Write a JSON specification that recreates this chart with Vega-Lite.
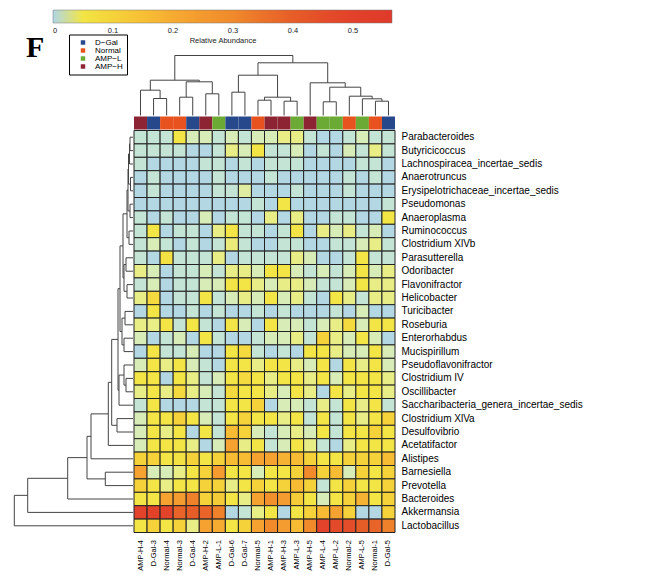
{
"$schema": "https://vega.github.io/schema/vega-lite/v6.json",
"autosize": {"type": "pad"},
"padding": {"left": 13, "top": 9.5, "right": 4, "bottom": 2},
"background": "white",
"config": {"font": "Liberation Sans", "view": {"stroke": null}},
"bounds": "flush",
"align": "each",
"columns": 2,
"spacing": {"row": 1, "column": 1},
"datasets": {
"samples": [{"s":"AMP-H-4","grp":"AMP−H"},{"s":"D-Gal-3","grp":"D−Gal"},{"s":"Normal-4","grp":"Normal"},{"s":"Normal-3","grp":"Normal"},{"s":"D-Gal-4","grp":"D−Gal"},{"s":"AMP-H-2","grp":"AMP−H"},{"s":"AMP-L-1","grp":"AMP−L"},{"s":"D-Gal-6","grp":"D−Gal"},{"s":"D-Gal-7","grp":"D−Gal"},{"s":"Normal-5","grp":"Normal"},{"s":"AMP-H-1","grp":"AMP−H"},{"s":"AMP-H-3","grp":"AMP−H"},{"s":"AMP-L-3","grp":"AMP−L"},{"s":"AMP-H-5","grp":"AMP−H"},{"s":"AMP-L-4","grp":"AMP−L"},{"s":"AMP-L-2","grp":"AMP−L"},{"s":"Normal-2","grp":"Normal"},{"s":"AMP-L-5","grp":"AMP−L"},{"s":"Normal-1","grp":"Normal"},{"s":"D-Gal-5","grp":"D−Gal"}],
"topTree": [
{"x":1.5,"x2":2.5,"y":17,"y2":17},{"x":1.5,"x2":1.5,"y":0,"y2":17},{"x":2.5,"x2":2.5,"y":0,"y2":17},
{"x":0.5,"x2":2,"y":25.3,"y2":25.3},{"x":0.5,"x2":0.5,"y":0,"y2":25.3},{"x":2,"x2":2,"y":17,"y2":25.3},
{"x":3.5,"x2":4.5,"y":18.3,"y2":18.3},{"x":3.5,"x2":3.5,"y":0,"y2":18.3},{"x":4.5,"x2":4.5,"y":0,"y2":18.3},
{"x":5.5,"x2":6.5,"y":21.7,"y2":21.7},{"x":5.5,"x2":5.5,"y":0,"y2":21.7},{"x":6.5,"x2":6.5,"y":0,"y2":21.7},
{"x":4,"x2":6,"y":33.7,"y2":33.7},{"x":4,"x2":4,"y":18.3,"y2":33.7},{"x":6,"x2":6,"y":21.7,"y2":33.7},
{"x":1.25,"x2":5,"y":35.3,"y2":35.3},{"x":1.25,"x2":1.25,"y":25.3,"y2":35.3},{"x":5,"x2":5,"y":33.7,"y2":35.3},
{"x":7.5,"x2":8.5,"y":23.3,"y2":23.3},{"x":7.5,"x2":7.5,"y":0,"y2":23.3},{"x":8.5,"x2":8.5,"y":0,"y2":23.3},
{"x":9.5,"x2":10.5,"y":15.3,"y2":15.3},{"x":9.5,"x2":9.5,"y":0,"y2":15.3},{"x":10.5,"x2":10.5,"y":0,"y2":15.3},
{"x":11.5,"x2":12.5,"y":14.3,"y2":14.3},{"x":11.5,"x2":11.5,"y":0,"y2":14.3},{"x":12.5,"x2":12.5,"y":0,"y2":14.3},
{"x":10,"x2":12,"y":18.3,"y2":18.3},{"x":10,"x2":10,"y":15.3,"y2":18.3},{"x":12,"x2":12,"y":14.3,"y2":18.3},
{"x":8,"x2":11,"y":40.3,"y2":40.3},{"x":8,"x2":8,"y":23.3,"y2":40.3},{"x":11,"x2":11,"y":18.3,"y2":40.3},
{"x":14.5,"x2":15.5,"y":13.7,"y2":13.7},{"x":14.5,"x2":14.5,"y":0,"y2":13.7},{"x":15.5,"x2":15.5,"y":0,"y2":13.7},
{"x":18.5,"x2":19.5,"y":14.3,"y2":14.3},{"x":18.5,"x2":18.5,"y":0,"y2":14.3},{"x":19.5,"x2":19.5,"y":0,"y2":14.3},
{"x":17.5,"x2":19,"y":16.7,"y2":16.7},{"x":17.5,"x2":17.5,"y":0,"y2":16.7},{"x":19,"x2":19,"y":14.3,"y2":16.7},
{"x":16.5,"x2":18.25,"y":19.3,"y2":19.3},{"x":16.5,"x2":16.5,"y":0,"y2":19.3},{"x":18.25,"x2":18.25,"y":16.7,"y2":19.3},
{"x":15,"x2":17.375,"y":28.3,"y2":28.3},{"x":15,"x2":15,"y":13.7,"y2":28.3},{"x":17.375,"x2":17.375,"y":19.3,"y2":28.3},
{"x":13.5,"x2":16.1875,"y":32.7,"y2":32.7},{"x":13.5,"x2":13.5,"y":0,"y2":32.7},{"x":16.1875,"x2":16.1875,"y":28.3,"y2":32.7},
{"x":9.5,"x2":14.844,"y":52.7,"y2":52.7},{"x":9.5,"x2":9.5,"y":40.3,"y2":52.7},{"x":14.844,"x2":14.844,"y":32.7,"y2":52.7},
{"x":3.125,"x2":12.172,"y":60,"y2":60},{"x":3.125,"x2":3.125,"y":35.3,"y2":60},{"x":12.172,"x2":12.172,"y":52.7,"y2":60}
],
"leftTree": [
{"x":3,"x2":3,"y":0.5,"y2":1.5},{"x":0,"x2":3,"y":0.5,"y2":0.5},{"x":0,"x2":3,"y":1.5,"y2":1.5},
{"x":3.5,"x2":3.5,"y":1,"y2":2.5},{"x":3,"x2":3.5,"y":1,"y2":1},{"x":0,"x2":3.5,"y":2.5,"y2":2.5},
{"x":2.5,"x2":2.5,"y":3.5,"y2":4.5},{"x":0,"x2":2.5,"y":3.5,"y2":3.5},{"x":0,"x2":2.5,"y":4.5,"y2":4.5},
{"x":4.5,"x2":4.5,"y":1.75,"y2":4},{"x":3.5,"x2":4.5,"y":1.75,"y2":1.75},{"x":2.5,"x2":4.5,"y":4,"y2":4},
{"x":3,"x2":3,"y":5.5,"y2":6.5},{"x":0,"x2":3,"y":5.5,"y2":5.5},{"x":0,"x2":3,"y":6.5,"y2":6.5},
{"x":5,"x2":5,"y":2.875,"y2":6},{"x":4.5,"x2":5,"y":2.875,"y2":2.875},{"x":3,"x2":5,"y":6,"y2":6},
{"x":4,"x2":4,"y":7.5,"y2":8.5},{"x":0,"x2":4,"y":7.5,"y2":7.5},{"x":0,"x2":4,"y":8.5,"y2":8.5},
{"x":6,"x2":6,"y":4.438,"y2":8},{"x":5,"x2":6,"y":4.438,"y2":4.438},{"x":4,"x2":6,"y":8,"y2":8},
{"x":7,"x2":7,"y":9.5,"y2":10.5},{"x":0,"x2":7,"y":9.5,"y2":9.5},{"x":0,"x2":7,"y":10.5,"y2":10.5},
{"x":6,"x2":6,"y":11.5,"y2":12.5},{"x":0,"x2":6,"y":11.5,"y2":11.5},{"x":0,"x2":6,"y":12.5,"y2":12.5},
{"x":9,"x2":9,"y":10,"y2":12},{"x":7,"x2":9,"y":10,"y2":10},{"x":6,"x2":9,"y":12,"y2":12},
{"x":10,"x2":10,"y":6.219,"y2":11},{"x":6,"x2":10,"y":6.219,"y2":6.219},{"x":9,"x2":10,"y":11,"y2":11},
{"x":8,"x2":8,"y":13.5,"y2":14.5},{"x":0,"x2":8,"y":13.5,"y2":13.5},{"x":0,"x2":8,"y":14.5,"y2":14.5},
{"x":9,"x2":9,"y":15.5,"y2":16.5},{"x":0,"x2":9,"y":15.5,"y2":15.5},{"x":0,"x2":9,"y":16.5,"y2":16.5},
{"x":11,"x2":11,"y":14,"y2":16},{"x":8,"x2":11,"y":14,"y2":14},{"x":9,"x2":11,"y":16,"y2":16},
{"x":13,"x2":13,"y":8.609,"y2":15},{"x":10,"x2":13,"y":8.609,"y2":8.609},{"x":11,"x2":13,"y":15,"y2":15},
{"x":7,"x2":7,"y":18.5,"y2":19.5},{"x":0,"x2":7,"y":18.5,"y2":18.5},{"x":0,"x2":7,"y":19.5,"y2":19.5},
{"x":9,"x2":9,"y":17.5,"y2":19},{"x":0,"x2":9,"y":17.5,"y2":17.5},{"x":7,"x2":9,"y":19,"y2":19},
{"x":14,"x2":14,"y":18.25,"y2":20.5},{"x":9,"x2":14,"y":18.25,"y2":18.25},{"x":0,"x2":14,"y":20.5,"y2":20.5},
{"x":15,"x2":15,"y":11.805,"y2":19.375},{"x":13,"x2":15,"y":11.805,"y2":11.805},{"x":14,"x2":15,"y":19.375,"y2":19.375},
{"x":16,"x2":16,"y":21.5,"y2":22.5},{"x":0,"x2":16,"y":21.5,"y2":21.5},{"x":0,"x2":16,"y":22.5,"y2":22.5},
{"x":21.3,"x2":21.3,"y":15.59,"y2":22},{"x":15,"x2":21.3,"y":15.59,"y2":15.59},{"x":16,"x2":21.3,"y":22,"y2":22},
{"x":24.7,"x2":24.7,"y":18.795,"y2":23.5},{"x":21.3,"x2":24.7,"y":18.795,"y2":18.795},{"x":0,"x2":24.7,"y":23.5,"y2":23.5},
{"x":42,"x2":42,"y":21.147,"y2":24.5},{"x":24.7,"x2":42,"y":21.147,"y2":21.147},{"x":0,"x2":42,"y":24.5,"y2":24.5},
{"x":27.7,"x2":27.7,"y":25.5,"y2":26.5},{"x":0,"x2":27.7,"y":25.5,"y2":25.5},{"x":0,"x2":27.7,"y":26.5,"y2":26.5},
{"x":46,"x2":46,"y":22.824,"y2":26},{"x":42,"x2":46,"y":22.824,"y2":22.824},{"x":27.7,"x2":46,"y":26,"y2":26},
{"x":65.3,"x2":65.3,"y":24.412,"y2":27.5},{"x":46,"x2":65.3,"y":24.412,"y2":24.412},{"x":0,"x2":65.3,"y":27.5,"y2":27.5},
{"x":105.3,"x2":105.3,"y":25.956,"y2":28.5},{"x":65.3,"x2":105.3,"y":25.956,"y2":25.956},{"x":0,"x2":105.3,"y":28.5,"y2":28.5},
{"x":118.7,"x2":118.7,"y":27.228,"y2":29.5},{"x":105.3,"x2":118.7,"y":27.228,"y2":27.228},{"x":0,"x2":118.7,"y":29.5,"y2":29.5}
],
"cells": [
{"g":"Parabacteroides","s":"AMP-H-4","v":0.003},{"g":"Parabacteroides","s":"D-Gal-3","v":0.003},{"g":"Parabacteroides","s":"Normal-4","v":0.003},{"g":"Parabacteroides","s":"Normal-3","v":0.05},{"g":"Parabacteroides","s":"D-Gal-4","v":0.007},{"g":"Parabacteroides","s":"AMP-H-2","v":0.007},{"g":"Parabacteroides","s":"AMP-L-1","v":0.003},{"g":"Parabacteroides","s":"D-Gal-6","v":0.007},{"g":"Parabacteroides","s":"D-Gal-7","v":0.003},{"g":"Parabacteroides","s":"Normal-5","v":0.007},{"g":"Parabacteroides","s":"AMP-H-1","v":0.007},{"g":"Parabacteroides","s":"AMP-H-3","v":0.018},{"g":"Parabacteroides","s":"AMP-L-3","v":0.018},{"g":"Parabacteroides","s":"AMP-H-5","v":0.003},{"g":"Parabacteroides","s":"AMP-L-4","v":0.0005},{"g":"Parabacteroides","s":"AMP-L-2","v":0.0005},{"g":"Parabacteroides","s":"Normal-2","v":0.003},{"g":"Parabacteroides","s":"AMP-L-5","v":0.007},{"g":"Parabacteroides","s":"Normal-1","v":0.003},{"g":"Parabacteroides","s":"D-Gal-5","v":0.003},
{"g":"Butyricicoccus","s":"AMP-H-4","v":0.003},{"g":"Butyricicoccus","s":"D-Gal-3","v":0.003},{"g":"Butyricicoccus","s":"Normal-4","v":0.003},{"g":"Butyricicoccus","s":"Normal-3","v":0.003},{"g":"Butyricicoccus","s":"D-Gal-4","v":0.0005},{"g":"Butyricicoccus","s":"AMP-H-2","v":0.0005},{"g":"Butyricicoccus","s":"AMP-L-1","v":0.003},{"g":"Butyricicoccus","s":"D-Gal-6","v":0.018},{"g":"Butyricicoccus","s":"D-Gal-7","v":0.007},{"g":"Butyricicoccus","s":"Normal-5","v":0.05},{"g":"Butyricicoccus","s":"AMP-H-1","v":0.003},{"g":"Butyricicoccus","s":"AMP-H-3","v":0.003},{"g":"Butyricicoccus","s":"AMP-L-3","v":0.007},{"g":"Butyricicoccus","s":"AMP-H-5","v":0.0005},{"g":"Butyricicoccus","s":"AMP-L-4","v":0.003},{"g":"Butyricicoccus","s":"AMP-L-2","v":0.0005},{"g":"Butyricicoccus","s":"Normal-2","v":0.007},{"g":"Butyricicoccus","s":"AMP-L-5","v":0.003},{"g":"Butyricicoccus","s":"Normal-1","v":0.018},{"g":"Butyricicoccus","s":"D-Gal-5","v":0.003},
{"g":"Lachnospiracea_incertae_sedis","s":"AMP-H-4","v":0.003},{"g":"Lachnospiracea_incertae_sedis","s":"D-Gal-3","v":0.0005},{"g":"Lachnospiracea_incertae_sedis","s":"Normal-4","v":0.0005},{"g":"Lachnospiracea_incertae_sedis","s":"Normal-3","v":0.0005},{"g":"Lachnospiracea_incertae_sedis","s":"D-Gal-4","v":0.0005},{"g":"Lachnospiracea_incertae_sedis","s":"AMP-H-2","v":0.003},{"g":"Lachnospiracea_incertae_sedis","s":"AMP-L-1","v":0.003},{"g":"Lachnospiracea_incertae_sedis","s":"D-Gal-6","v":0.0005},{"g":"Lachnospiracea_incertae_sedis","s":"D-Gal-7","v":0.003},{"g":"Lachnospiracea_incertae_sedis","s":"Normal-5","v":0.0005},{"g":"Lachnospiracea_incertae_sedis","s":"AMP-H-1","v":0.003},{"g":"Lachnospiracea_incertae_sedis","s":"AMP-H-3","v":0.003},{"g":"Lachnospiracea_incertae_sedis","s":"AMP-L-3","v":0.003},{"g":"Lachnospiracea_incertae_sedis","s":"AMP-H-5","v":0.0005},{"g":"Lachnospiracea_incertae_sedis","s":"AMP-L-4","v":0.0005},{"g":"Lachnospiracea_incertae_sedis","s":"AMP-L-2","v":0.0005},{"g":"Lachnospiracea_incertae_sedis","s":"Normal-2","v":0.0005},{"g":"Lachnospiracea_incertae_sedis","s":"AMP-L-5","v":0.003},{"g":"Lachnospiracea_incertae_sedis","s":"Normal-1","v":0.003},{"g":"Lachnospiracea_incertae_sedis","s":"D-Gal-5","v":0.0005},
{"g":"Anaerotruncus","s":"AMP-H-4","v":0.0005},{"g":"Anaerotruncus","s":"D-Gal-3","v":0.003},{"g":"Anaerotruncus","s":"Normal-4","v":0.0005},{"g":"Anaerotruncus","s":"Normal-3","v":0.0005},{"g":"Anaerotruncus","s":"D-Gal-4","v":0.0005},{"g":"Anaerotruncus","s":"AMP-H-2","v":0.0005},{"g":"Anaerotruncus","s":"AMP-L-1","v":0.003},{"g":"Anaerotruncus","s":"D-Gal-6","v":0.0005},{"g":"Anaerotruncus","s":"D-Gal-7","v":0.0005},{"g":"Anaerotruncus","s":"Normal-5","v":0.0005},{"g":"Anaerotruncus","s":"AMP-H-1","v":0.003},{"g":"Anaerotruncus","s":"AMP-H-3","v":0.0005},{"g":"Anaerotruncus","s":"AMP-L-3","v":0.0005},{"g":"Anaerotruncus","s":"AMP-H-5","v":0.0005},{"g":"Anaerotruncus","s":"AMP-L-4","v":0.0005},{"g":"Anaerotruncus","s":"AMP-L-2","v":0.0005},{"g":"Anaerotruncus","s":"Normal-2","v":0.003},{"g":"Anaerotruncus","s":"AMP-L-5","v":0.0005},{"g":"Anaerotruncus","s":"Normal-1","v":0.003},{"g":"Anaerotruncus","s":"D-Gal-5","v":0.0005},
{"g":"Erysipelotrichaceae_incertae_sedis","s":"AMP-H-4","v":0.0005},{"g":"Erysipelotrichaceae_incertae_sedis","s":"D-Gal-3","v":0.003},{"g":"Erysipelotrichaceae_incertae_sedis","s":"Normal-4","v":0.0005},{"g":"Erysipelotrichaceae_incertae_sedis","s":"Normal-3","v":0.0005},{"g":"Erysipelotrichaceae_incertae_sedis","s":"D-Gal-4","v":0.0005},{"g":"Erysipelotrichaceae_incertae_sedis","s":"AMP-H-2","v":0.0005},{"g":"Erysipelotrichaceae_incertae_sedis","s":"AMP-L-1","v":0.003},{"g":"Erysipelotrichaceae_incertae_sedis","s":"D-Gal-6","v":0.003},{"g":"Erysipelotrichaceae_incertae_sedis","s":"D-Gal-7","v":0.012},{"g":"Erysipelotrichaceae_incertae_sedis","s":"Normal-5","v":0.0005},{"g":"Erysipelotrichaceae_incertae_sedis","s":"AMP-H-1","v":0.0005},{"g":"Erysipelotrichaceae_incertae_sedis","s":"AMP-H-3","v":0.0005},{"g":"Erysipelotrichaceae_incertae_sedis","s":"AMP-L-3","v":0.003},{"g":"Erysipelotrichaceae_incertae_sedis","s":"AMP-H-5","v":0.0005},{"g":"Erysipelotrichaceae_incertae_sedis","s":"AMP-L-4","v":0.0005},{"g":"Erysipelotrichaceae_incertae_sedis","s":"AMP-L-2","v":0.0005},{"g":"Erysipelotrichaceae_incertae_sedis","s":"Normal-2","v":0.003},{"g":"Erysipelotrichaceae_incertae_sedis","s":"AMP-L-5","v":0.0005},{"g":"Erysipelotrichaceae_incertae_sedis","s":"Normal-1","v":0.0005},{"g":"Erysipelotrichaceae_incertae_sedis","s":"D-Gal-5","v":0.0005},
{"g":"Pseudomonas","s":"AMP-H-4","v":0.0005},{"g":"Pseudomonas","s":"D-Gal-3","v":0.0005},{"g":"Pseudomonas","s":"Normal-4","v":0.0005},{"g":"Pseudomonas","s":"Normal-3","v":0.0005},{"g":"Pseudomonas","s":"D-Gal-4","v":0.0005},{"g":"Pseudomonas","s":"AMP-H-2","v":0.0005},{"g":"Pseudomonas","s":"AMP-L-1","v":0.0005},{"g":"Pseudomonas","s":"D-Gal-6","v":0.0005},{"g":"Pseudomonas","s":"D-Gal-7","v":0.0005},{"g":"Pseudomonas","s":"Normal-5","v":0.003},{"g":"Pseudomonas","s":"AMP-H-1","v":0.0005},{"g":"Pseudomonas","s":"AMP-H-3","v":0.05},{"g":"Pseudomonas","s":"AMP-L-3","v":0.0005},{"g":"Pseudomonas","s":"AMP-H-5","v":0.0005},{"g":"Pseudomonas","s":"AMP-L-4","v":0.0005},{"g":"Pseudomonas","s":"AMP-L-2","v":0.0005},{"g":"Pseudomonas","s":"Normal-2","v":0.0005},{"g":"Pseudomonas","s":"AMP-L-5","v":0.0005},{"g":"Pseudomonas","s":"Normal-1","v":0.0005},{"g":"Pseudomonas","s":"D-Gal-5","v":0.003},
{"g":"Anaeroplasma","s":"AMP-H-4","v":0.003},{"g":"Anaeroplasma","s":"D-Gal-3","v":0.0005},{"g":"Anaeroplasma","s":"Normal-4","v":0.003},{"g":"Anaeroplasma","s":"Normal-3","v":0.0005},{"g":"Anaeroplasma","s":"D-Gal-4","v":0.0005},{"g":"Anaeroplasma","s":"AMP-H-2","v":0.007},{"g":"Anaeroplasma","s":"AMP-L-1","v":0.0005},{"g":"Anaeroplasma","s":"D-Gal-6","v":0.003},{"g":"Anaeroplasma","s":"D-Gal-7","v":0.003},{"g":"Anaeroplasma","s":"Normal-5","v":0.0005},{"g":"Anaeroplasma","s":"AMP-H-1","v":0.018},{"g":"Anaeroplasma","s":"AMP-H-3","v":0.0005},{"g":"Anaeroplasma","s":"AMP-L-3","v":0.018},{"g":"Anaeroplasma","s":"AMP-H-5","v":0.0005},{"g":"Anaeroplasma","s":"AMP-L-4","v":0.0005},{"g":"Anaeroplasma","s":"AMP-L-2","v":0.003},{"g":"Anaeroplasma","s":"Normal-2","v":0.003},{"g":"Anaeroplasma","s":"AMP-L-5","v":0.0005},{"g":"Anaeroplasma","s":"Normal-1","v":0.0005},{"g":"Anaeroplasma","s":"D-Gal-5","v":0.05},
{"g":"Ruminococcus","s":"AMP-H-4","v":0.003},{"g":"Ruminococcus","s":"D-Gal-3","v":0.05},{"g":"Ruminococcus","s":"Normal-4","v":0.0005},{"g":"Ruminococcus","s":"Normal-3","v":0.003},{"g":"Ruminococcus","s":"D-Gal-4","v":0.003},{"g":"Ruminococcus","s":"AMP-H-2","v":0.0005},{"g":"Ruminococcus","s":"AMP-L-1","v":0.018},{"g":"Ruminococcus","s":"D-Gal-6","v":0.05},{"g":"Ruminococcus","s":"D-Gal-7","v":0.003},{"g":"Ruminococcus","s":"Normal-5","v":0.003},{"g":"Ruminococcus","s":"AMP-H-1","v":0.0005},{"g":"Ruminococcus","s":"AMP-H-3","v":0.003},{"g":"Ruminococcus","s":"AMP-L-3","v":0.05},{"g":"Ruminococcus","s":"AMP-H-5","v":0.0005},{"g":"Ruminococcus","s":"AMP-L-4","v":0.018},{"g":"Ruminococcus","s":"AMP-L-2","v":0.007},{"g":"Ruminococcus","s":"Normal-2","v":0.018},{"g":"Ruminococcus","s":"AMP-L-5","v":0.003},{"g":"Ruminococcus","s":"Normal-1","v":0.007},{"g":"Ruminococcus","s":"D-Gal-5","v":0.0005},
{"g":"Clostridium XlVb","s":"AMP-H-4","v":0.003},{"g":"Clostridium XlVb","s":"D-Gal-3","v":0.007},{"g":"Clostridium XlVb","s":"Normal-4","v":0.003},{"g":"Clostridium XlVb","s":"Normal-3","v":0.0005},{"g":"Clostridium XlVb","s":"D-Gal-4","v":0.003},{"g":"Clostridium XlVb","s":"AMP-H-2","v":0.0005},{"g":"Clostridium XlVb","s":"AMP-L-1","v":0.003},{"g":"Clostridium XlVb","s":"D-Gal-6","v":0.025},{"g":"Clostridium XlVb","s":"D-Gal-7","v":0.003},{"g":"Clostridium XlVb","s":"Normal-5","v":0.0005},{"g":"Clostridium XlVb","s":"AMP-H-1","v":0.0005},{"g":"Clostridium XlVb","s":"AMP-H-3","v":0.003},{"g":"Clostridium XlVb","s":"AMP-L-3","v":0.003},{"g":"Clostridium XlVb","s":"AMP-H-5","v":0.0005},{"g":"Clostridium XlVb","s":"AMP-L-4","v":0.0005},{"g":"Clostridium XlVb","s":"AMP-L-2","v":0.003},{"g":"Clostridium XlVb","s":"Normal-2","v":0.003},{"g":"Clostridium XlVb","s":"AMP-L-5","v":0.007},{"g":"Clostridium XlVb","s":"Normal-1","v":0.018},{"g":"Clostridium XlVb","s":"D-Gal-5","v":0.003},
{"g":"Parasutterella","s":"AMP-H-4","v":0.003},{"g":"Parasutterella","s":"D-Gal-3","v":0.0005},{"g":"Parasutterella","s":"Normal-4","v":0.06},{"g":"Parasutterella","s":"Normal-3","v":0.003},{"g":"Parasutterella","s":"D-Gal-4","v":0.003},{"g":"Parasutterella","s":"AMP-H-2","v":0.003},{"g":"Parasutterella","s":"AMP-L-1","v":0.018},{"g":"Parasutterella","s":"D-Gal-6","v":0.0005},{"g":"Parasutterella","s":"D-Gal-7","v":0.003},{"g":"Parasutterella","s":"Normal-5","v":0.003},{"g":"Parasutterella","s":"AMP-H-1","v":0.003},{"g":"Parasutterella","s":"AMP-H-3","v":0.003},{"g":"Parasutterella","s":"AMP-L-3","v":0.018},{"g":"Parasutterella","s":"AMP-H-5","v":0.007},{"g":"Parasutterella","s":"AMP-L-4","v":0.0005},{"g":"Parasutterella","s":"AMP-L-2","v":0.0005},{"g":"Parasutterella","s":"Normal-2","v":0.003},{"g":"Parasutterella","s":"AMP-L-5","v":0.05},{"g":"Parasutterella","s":"Normal-1","v":0.003},{"g":"Parasutterella","s":"D-Gal-5","v":0.003},
{"g":"Odoribacter","s":"AMP-H-4","v":0.018},{"g":"Odoribacter","s":"D-Gal-3","v":0.007},{"g":"Odoribacter","s":"Normal-4","v":0.0005},{"g":"Odoribacter","s":"Normal-3","v":0.003},{"g":"Odoribacter","s":"D-Gal-4","v":0.003},{"g":"Odoribacter","s":"AMP-H-2","v":0.007},{"g":"Odoribacter","s":"AMP-L-1","v":0.003},{"g":"Odoribacter","s":"D-Gal-6","v":0.018},{"g":"Odoribacter","s":"D-Gal-7","v":0.018},{"g":"Odoribacter","s":"Normal-5","v":0.007},{"g":"Odoribacter","s":"AMP-H-1","v":0.05},{"g":"Odoribacter","s":"AMP-H-3","v":0.05},{"g":"Odoribacter","s":"AMP-L-3","v":0.007},{"g":"Odoribacter","s":"AMP-H-5","v":0.003},{"g":"Odoribacter","s":"AMP-L-4","v":0.007},{"g":"Odoribacter","s":"AMP-L-2","v":0.003},{"g":"Odoribacter","s":"Normal-2","v":0.007},{"g":"Odoribacter","s":"AMP-L-5","v":0.05},{"g":"Odoribacter","s":"Normal-1","v":0.007},{"g":"Odoribacter","s":"D-Gal-5","v":0.018},
{"g":"Flavonifractor","s":"AMP-H-4","v":0.003},{"g":"Flavonifractor","s":"D-Gal-3","v":0.007},{"g":"Flavonifractor","s":"Normal-4","v":0.0005},{"g":"Flavonifractor","s":"Normal-3","v":0.003},{"g":"Flavonifractor","s":"D-Gal-4","v":0.003},{"g":"Flavonifractor","s":"AMP-H-2","v":0.007},{"g":"Flavonifractor","s":"AMP-L-1","v":0.007},{"g":"Flavonifractor","s":"D-Gal-6","v":0.05},{"g":"Flavonifractor","s":"D-Gal-7","v":0.05},{"g":"Flavonifractor","s":"Normal-5","v":0.018},{"g":"Flavonifractor","s":"AMP-H-1","v":0.007},{"g":"Flavonifractor","s":"AMP-H-3","v":0.018},{"g":"Flavonifractor","s":"AMP-L-3","v":0.018},{"g":"Flavonifractor","s":"AMP-H-5","v":0.007},{"g":"Flavonifractor","s":"AMP-L-4","v":0.003},{"g":"Flavonifractor","s":"AMP-L-2","v":0.003},{"g":"Flavonifractor","s":"Normal-2","v":0.007},{"g":"Flavonifractor","s":"AMP-L-5","v":0.05},{"g":"Flavonifractor","s":"Normal-1","v":0.018},{"g":"Flavonifractor","s":"D-Gal-5","v":0.018},
{"g":"Helicobacter","s":"AMP-H-4","v":0.018},{"g":"Helicobacter","s":"D-Gal-3","v":0.08},{"g":"Helicobacter","s":"Normal-4","v":0.0005},{"g":"Helicobacter","s":"Normal-3","v":0.003},{"g":"Helicobacter","s":"D-Gal-4","v":0.003},{"g":"Helicobacter","s":"AMP-H-2","v":0.05},{"g":"Helicobacter","s":"AMP-L-1","v":0.003},{"g":"Helicobacter","s":"D-Gal-6","v":0.007},{"g":"Helicobacter","s":"D-Gal-7","v":0.018},{"g":"Helicobacter","s":"Normal-5","v":0.007},{"g":"Helicobacter","s":"AMP-H-1","v":0.05},{"g":"Helicobacter","s":"AMP-H-3","v":0.007},{"g":"Helicobacter","s":"AMP-L-3","v":0.018},{"g":"Helicobacter","s":"AMP-H-5","v":0.003},{"g":"Helicobacter","s":"AMP-L-4","v":0.0005},{"g":"Helicobacter","s":"AMP-L-2","v":0.05},{"g":"Helicobacter","s":"Normal-2","v":0.018},{"g":"Helicobacter","s":"AMP-L-5","v":0.003},{"g":"Helicobacter","s":"Normal-1","v":0.018},{"g":"Helicobacter","s":"D-Gal-5","v":0.018},
{"g":"Turicibacter","s":"AMP-H-4","v":0.0005},{"g":"Turicibacter","s":"D-Gal-3","v":0.05},{"g":"Turicibacter","s":"Normal-4","v":0.0005},{"g":"Turicibacter","s":"Normal-3","v":0.0005},{"g":"Turicibacter","s":"D-Gal-4","v":0.003},{"g":"Turicibacter","s":"AMP-H-2","v":0.0005},{"g":"Turicibacter","s":"AMP-L-1","v":0.003},{"g":"Turicibacter","s":"D-Gal-6","v":0.0005},{"g":"Turicibacter","s":"D-Gal-7","v":0.0005},{"g":"Turicibacter","s":"Normal-5","v":0.003},{"g":"Turicibacter","s":"AMP-H-1","v":0.0005},{"g":"Turicibacter","s":"AMP-H-3","v":0.003},{"g":"Turicibacter","s":"AMP-L-3","v":0.0005},{"g":"Turicibacter","s":"AMP-H-5","v":0.0005},{"g":"Turicibacter","s":"AMP-L-4","v":0.0005},{"g":"Turicibacter","s":"AMP-L-2","v":0.003},{"g":"Turicibacter","s":"Normal-2","v":0.0005},{"g":"Turicibacter","s":"AMP-L-5","v":0.007},{"g":"Turicibacter","s":"Normal-1","v":0.0005},{"g":"Turicibacter","s":"D-Gal-5","v":0.0005},
{"g":"Roseburia","s":"AMP-H-4","v":0.018},{"g":"Roseburia","s":"D-Gal-3","v":0.018},{"g":"Roseburia","s":"Normal-4","v":0.05},{"g":"Roseburia","s":"Normal-3","v":0.003},{"g":"Roseburia","s":"D-Gal-4","v":0.05},{"g":"Roseburia","s":"AMP-H-2","v":0.003},{"g":"Roseburia","s":"AMP-L-1","v":0.0005},{"g":"Roseburia","s":"D-Gal-6","v":0.05},{"g":"Roseburia","s":"D-Gal-7","v":0.007},{"g":"Roseburia","s":"Normal-5","v":0.0005},{"g":"Roseburia","s":"AMP-H-1","v":0.05},{"g":"Roseburia","s":"AMP-H-3","v":0.007},{"g":"Roseburia","s":"AMP-L-3","v":0.007},{"g":"Roseburia","s":"AMP-H-5","v":0.003},{"g":"Roseburia","s":"AMP-L-4","v":0.007},{"g":"Roseburia","s":"AMP-L-2","v":0.018},{"g":"Roseburia","s":"Normal-2","v":0.08},{"g":"Roseburia","s":"AMP-L-5","v":0.007},{"g":"Roseburia","s":"Normal-1","v":0.05},{"g":"Roseburia","s":"D-Gal-5","v":0.05},
{"g":"Enterorhabdus","s":"AMP-H-4","v":0.007},{"g":"Enterorhabdus","s":"D-Gal-3","v":0.0005},{"g":"Enterorhabdus","s":"Normal-4","v":0.003},{"g":"Enterorhabdus","s":"Normal-3","v":0.007},{"g":"Enterorhabdus","s":"D-Gal-4","v":0.0005},{"g":"Enterorhabdus","s":"AMP-H-2","v":0.05},{"g":"Enterorhabdus","s":"AMP-L-1","v":0.003},{"g":"Enterorhabdus","s":"D-Gal-6","v":0.0005},{"g":"Enterorhabdus","s":"D-Gal-7","v":0.0005},{"g":"Enterorhabdus","s":"Normal-5","v":0.003},{"g":"Enterorhabdus","s":"AMP-H-1","v":0.007},{"g":"Enterorhabdus","s":"AMP-H-3","v":0.007},{"g":"Enterorhabdus","s":"AMP-L-3","v":0.018},{"g":"Enterorhabdus","s":"AMP-H-5","v":0.003},{"g":"Enterorhabdus","s":"AMP-L-4","v":0.1},{"g":"Enterorhabdus","s":"AMP-L-2","v":0.018},{"g":"Enterorhabdus","s":"Normal-2","v":0.007},{"g":"Enterorhabdus","s":"AMP-L-5","v":0.05},{"g":"Enterorhabdus","s":"Normal-1","v":0.007},{"g":"Enterorhabdus","s":"D-Gal-5","v":0.0005},
{"g":"Mucispirillum","s":"AMP-H-4","v":0.0005},{"g":"Mucispirillum","s":"D-Gal-3","v":0.05},{"g":"Mucispirillum","s":"Normal-4","v":0.003},{"g":"Mucispirillum","s":"Normal-3","v":0.003},{"g":"Mucispirillum","s":"D-Gal-4","v":0.007},{"g":"Mucispirillum","s":"AMP-H-2","v":0.0005},{"g":"Mucispirillum","s":"AMP-L-1","v":0.0005},{"g":"Mucispirillum","s":"D-Gal-6","v":0.05},{"g":"Mucispirillum","s":"D-Gal-7","v":0.08},{"g":"Mucispirillum","s":"Normal-5","v":0.003},{"g":"Mucispirillum","s":"AMP-H-1","v":0.0005},{"g":"Mucispirillum","s":"AMP-H-3","v":0.003},{"g":"Mucispirillum","s":"AMP-L-3","v":0.0005},{"g":"Mucispirillum","s":"AMP-H-5","v":0.05},{"g":"Mucispirillum","s":"AMP-L-4","v":0.05},{"g":"Mucispirillum","s":"AMP-L-2","v":0.018},{"g":"Mucispirillum","s":"Normal-2","v":0.007},{"g":"Mucispirillum","s":"AMP-L-5","v":0.007},{"g":"Mucispirillum","s":"Normal-1","v":0.05},{"g":"Mucispirillum","s":"D-Gal-5","v":0.007},
{"g":"Pseudoflavonifractor","s":"AMP-H-4","v":0.007},{"g":"Pseudoflavonifractor","s":"D-Gal-3","v":0.05},{"g":"Pseudoflavonifractor","s":"Normal-4","v":0.018},{"g":"Pseudoflavonifractor","s":"Normal-3","v":0.05},{"g":"Pseudoflavonifractor","s":"D-Gal-4","v":0.007},{"g":"Pseudoflavonifractor","s":"AMP-H-2","v":0.003},{"g":"Pseudoflavonifractor","s":"AMP-L-1","v":0.0005},{"g":"Pseudoflavonifractor","s":"D-Gal-6","v":0.05},{"g":"Pseudoflavonifractor","s":"D-Gal-7","v":0.05},{"g":"Pseudoflavonifractor","s":"Normal-5","v":0.018},{"g":"Pseudoflavonifractor","s":"AMP-H-1","v":0.05},{"g":"Pseudoflavonifractor","s":"AMP-H-3","v":0.05},{"g":"Pseudoflavonifractor","s":"AMP-L-3","v":0.018},{"g":"Pseudoflavonifractor","s":"AMP-H-5","v":0.007},{"g":"Pseudoflavonifractor","s":"AMP-L-4","v":0.05},{"g":"Pseudoflavonifractor","s":"AMP-L-2","v":0.0005},{"g":"Pseudoflavonifractor","s":"Normal-2","v":0.05},{"g":"Pseudoflavonifractor","s":"AMP-L-5","v":0.018},{"g":"Pseudoflavonifractor","s":"Normal-1","v":0.05},{"g":"Pseudoflavonifractor","s":"D-Gal-5","v":0.007},
{"g":"Clostridium IV","s":"AMP-H-4","v":0.05},{"g":"Clostridium IV","s":"D-Gal-3","v":0.05},{"g":"Clostridium IV","s":"Normal-4","v":0.0005},{"g":"Clostridium IV","s":"Normal-3","v":0.05},{"g":"Clostridium IV","s":"D-Gal-4","v":0.018},{"g":"Clostridium IV","s":"AMP-H-2","v":0.003},{"g":"Clostridium IV","s":"AMP-L-1","v":0.007},{"g":"Clostridium IV","s":"D-Gal-6","v":0.05},{"g":"Clostridium IV","s":"D-Gal-7","v":0.08},{"g":"Clostridium IV","s":"Normal-5","v":0.05},{"g":"Clostridium IV","s":"AMP-H-1","v":0.018},{"g":"Clostridium IV","s":"AMP-H-3","v":0.05},{"g":"Clostridium IV","s":"AMP-L-3","v":0.05},{"g":"Clostridium IV","s":"AMP-H-5","v":0.018},{"g":"Clostridium IV","s":"AMP-L-4","v":0.05},{"g":"Clostridium IV","s":"AMP-L-2","v":0.007},{"g":"Clostridium IV","s":"Normal-2","v":0.05},{"g":"Clostridium IV","s":"AMP-L-5","v":0.05},{"g":"Clostridium IV","s":"Normal-1","v":0.05},{"g":"Clostridium IV","s":"D-Gal-5","v":0.018},
{"g":"Oscillibacter","s":"AMP-H-4","v":0.018},{"g":"Oscillibacter","s":"D-Gal-3","v":0.05},{"g":"Oscillibacter","s":"Normal-4","v":0.018},{"g":"Oscillibacter","s":"Normal-3","v":0.08},{"g":"Oscillibacter","s":"D-Gal-4","v":0.018},{"g":"Oscillibacter","s":"AMP-H-2","v":0.007},{"g":"Oscillibacter","s":"AMP-L-1","v":0.003},{"g":"Oscillibacter","s":"D-Gal-6","v":0.08},{"g":"Oscillibacter","s":"D-Gal-7","v":0.05},{"g":"Oscillibacter","s":"Normal-5","v":0.05},{"g":"Oscillibacter","s":"AMP-H-1","v":0.018},{"g":"Oscillibacter","s":"AMP-H-3","v":0.007},{"g":"Oscillibacter","s":"AMP-L-3","v":0.05},{"g":"Oscillibacter","s":"AMP-H-5","v":0.018},{"g":"Oscillibacter","s":"AMP-L-4","v":0.0005},{"g":"Oscillibacter","s":"AMP-L-2","v":0.05},{"g":"Oscillibacter","s":"Normal-2","v":0.018},{"g":"Oscillibacter","s":"AMP-L-5","v":0.05},{"g":"Oscillibacter","s":"Normal-1","v":0.05},{"g":"Oscillibacter","s":"D-Gal-5","v":0.018},
{"g":"Saccharibacteria_genera_incertae_sedis","s":"AMP-H-4","v":0.003},{"g":"Saccharibacteria_genera_incertae_sedis","s":"D-Gal-3","v":0.05},{"g":"Saccharibacteria_genera_incertae_sedis","s":"Normal-4","v":0.0005},{"g":"Saccharibacteria_genera_incertae_sedis","s":"Normal-3","v":0.0005},{"g":"Saccharibacteria_genera_incertae_sedis","s":"D-Gal-4","v":0.0005},{"g":"Saccharibacteria_genera_incertae_sedis","s":"AMP-H-2","v":0.003},{"g":"Saccharibacteria_genera_incertae_sedis","s":"AMP-L-1","v":0.003},{"g":"Saccharibacteria_genera_incertae_sedis","s":"D-Gal-6","v":0.05},{"g":"Saccharibacteria_genera_incertae_sedis","s":"D-Gal-7","v":0.05},{"g":"Saccharibacteria_genera_incertae_sedis","s":"Normal-5","v":0.1},{"g":"Saccharibacteria_genera_incertae_sedis","s":"AMP-H-1","v":0.0005},{"g":"Saccharibacteria_genera_incertae_sedis","s":"AMP-H-3","v":0.007},{"g":"Saccharibacteria_genera_incertae_sedis","s":"AMP-L-3","v":0.007},{"g":"Saccharibacteria_genera_incertae_sedis","s":"AMP-H-5","v":0.003},{"g":"Saccharibacteria_genera_incertae_sedis","s":"AMP-L-4","v":0.018},{"g":"Saccharibacteria_genera_incertae_sedis","s":"AMP-L-2","v":0.003},{"g":"Saccharibacteria_genera_incertae_sedis","s":"Normal-2","v":0.05},{"g":"Saccharibacteria_genera_incertae_sedis","s":"AMP-L-5","v":0.018},{"g":"Saccharibacteria_genera_incertae_sedis","s":"Normal-1","v":0.05},{"g":"Saccharibacteria_genera_incertae_sedis","s":"D-Gal-5","v":0.003},
{"g":"Clostridium XlVa","s":"AMP-H-4","v":0.007},{"g":"Clostridium XlVa","s":"D-Gal-3","v":0.05},{"g":"Clostridium XlVa","s":"Normal-4","v":0.05},{"g":"Clostridium XlVa","s":"Normal-3","v":0.1},{"g":"Clostridium XlVa","s":"D-Gal-4","v":0.05},{"g":"Clostridium XlVa","s":"AMP-H-2","v":0.007},{"g":"Clostridium XlVa","s":"AMP-L-1","v":0.003},{"g":"Clostridium XlVa","s":"D-Gal-6","v":0.05},{"g":"Clostridium XlVa","s":"D-Gal-7","v":0.1},{"g":"Clostridium XlVa","s":"Normal-5","v":0.05},{"g":"Clostridium XlVa","s":"AMP-H-1","v":0.05},{"g":"Clostridium XlVa","s":"AMP-H-3","v":0.018},{"g":"Clostridium XlVa","s":"AMP-L-3","v":0.05},{"g":"Clostridium XlVa","s":"AMP-H-5","v":0.003},{"g":"Clostridium XlVa","s":"AMP-L-4","v":0.05},{"g":"Clostridium XlVa","s":"AMP-L-2","v":0.003},{"g":"Clostridium XlVa","s":"Normal-2","v":0.05},{"g":"Clostridium XlVa","s":"AMP-L-5","v":0.018},{"g":"Clostridium XlVa","s":"Normal-1","v":0.05},{"g":"Clostridium XlVa","s":"D-Gal-5","v":0.1},
{"g":"Desulfovibrio","s":"AMP-H-4","v":0.007},{"g":"Desulfovibrio","s":"D-Gal-3","v":0.05},{"g":"Desulfovibrio","s":"Normal-4","v":0.018},{"g":"Desulfovibrio","s":"Normal-3","v":0.05},{"g":"Desulfovibrio","s":"D-Gal-4","v":0.0005},{"g":"Desulfovibrio","s":"AMP-H-2","v":0.05},{"g":"Desulfovibrio","s":"AMP-L-1","v":0.003},{"g":"Desulfovibrio","s":"D-Gal-6","v":0.16},{"g":"Desulfovibrio","s":"D-Gal-7","v":0.1},{"g":"Desulfovibrio","s":"Normal-5","v":0.007},{"g":"Desulfovibrio","s":"AMP-H-1","v":0.003},{"g":"Desulfovibrio","s":"AMP-H-3","v":0.007},{"g":"Desulfovibrio","s":"AMP-L-3","v":0.018},{"g":"Desulfovibrio","s":"AMP-H-5","v":0.007},{"g":"Desulfovibrio","s":"AMP-L-4","v":0.05},{"g":"Desulfovibrio","s":"AMP-L-2","v":0.003},{"g":"Desulfovibrio","s":"Normal-2","v":0.05},{"g":"Desulfovibrio","s":"AMP-L-5","v":0.05},{"g":"Desulfovibrio","s":"Normal-1","v":0.1},{"g":"Desulfovibrio","s":"D-Gal-5","v":0.05},
{"g":"Acetatifactor","s":"AMP-H-4","v":0.007},{"g":"Acetatifactor","s":"D-Gal-3","v":0.05},{"g":"Acetatifactor","s":"Normal-4","v":0.05},{"g":"Acetatifactor","s":"Normal-3","v":0.05},{"g":"Acetatifactor","s":"D-Gal-4","v":0.018},{"g":"Acetatifactor","s":"AMP-H-2","v":0.0005},{"g":"Acetatifactor","s":"AMP-L-1","v":0.007},{"g":"Acetatifactor","s":"D-Gal-6","v":0.22},{"g":"Acetatifactor","s":"D-Gal-7","v":0.018},{"g":"Acetatifactor","s":"Normal-5","v":0.05},{"g":"Acetatifactor","s":"AMP-H-1","v":0.003},{"g":"Acetatifactor","s":"AMP-H-3","v":0.007},{"g":"Acetatifactor","s":"AMP-L-3","v":0.05},{"g":"Acetatifactor","s":"AMP-H-5","v":0.018},{"g":"Acetatifactor","s":"AMP-L-4","v":0.003},{"g":"Acetatifactor","s":"AMP-L-2","v":0.0005},{"g":"Acetatifactor","s":"Normal-2","v":0.018},{"g":"Acetatifactor","s":"AMP-L-5","v":0.05},{"g":"Acetatifactor","s":"Normal-1","v":0.05},{"g":"Acetatifactor","s":"D-Gal-5","v":0.05},
{"g":"Alistipes","s":"AMP-H-4","v":0.1},{"g":"Alistipes","s":"D-Gal-3","v":0.1},{"g":"Alistipes","s":"Normal-4","v":0.05},{"g":"Alistipes","s":"Normal-3","v":0.06},{"g":"Alistipes","s":"D-Gal-4","v":0.1},{"g":"Alistipes","s":"AMP-H-2","v":0.05},{"g":"Alistipes","s":"AMP-L-1","v":0.1},{"g":"Alistipes","s":"D-Gal-6","v":0.16},{"g":"Alistipes","s":"D-Gal-7","v":0.16},{"g":"Alistipes","s":"Normal-5","v":0.22},{"g":"Alistipes","s":"AMP-H-1","v":0.22},{"g":"Alistipes","s":"AMP-H-3","v":0.18},{"g":"Alistipes","s":"AMP-L-3","v":0.16},{"g":"Alistipes","s":"AMP-H-5","v":0.1},{"g":"Alistipes","s":"AMP-L-4","v":0.05},{"g":"Alistipes","s":"AMP-L-2","v":0.05},{"g":"Alistipes","s":"Normal-2","v":0.1},{"g":"Alistipes","s":"AMP-L-5","v":0.1},{"g":"Alistipes","s":"Normal-1","v":0.1},{"g":"Alistipes","s":"D-Gal-5","v":0.16},
{"g":"Barnesiella","s":"AMP-H-4","v":0.22},{"g":"Barnesiella","s":"D-Gal-3","v":0.007},{"g":"Barnesiella","s":"Normal-4","v":0.007},{"g":"Barnesiella","s":"Normal-3","v":0.018},{"g":"Barnesiella","s":"D-Gal-4","v":0.05},{"g":"Barnesiella","s":"AMP-H-2","v":0.1},{"g":"Barnesiella","s":"AMP-L-1","v":0.24},{"g":"Barnesiella","s":"D-Gal-6","v":0.05},{"g":"Barnesiella","s":"D-Gal-7","v":0.05},{"g":"Barnesiella","s":"Normal-5","v":0.007},{"g":"Barnesiella","s":"AMP-H-1","v":0.05},{"g":"Barnesiella","s":"AMP-H-3","v":0.05},{"g":"Barnesiella","s":"AMP-L-3","v":0.1},{"g":"Barnesiella","s":"AMP-H-5","v":0.3},{"g":"Barnesiella","s":"AMP-L-4","v":0.1},{"g":"Barnesiella","s":"AMP-L-2","v":0.16},{"g":"Barnesiella","s":"Normal-2","v":0.007},{"g":"Barnesiella","s":"AMP-L-5","v":0.1},{"g":"Barnesiella","s":"Normal-1","v":0.05},{"g":"Barnesiella","s":"D-Gal-5","v":0.1},
{"g":"Prevotella","s":"AMP-H-4","v":0.1},{"g":"Prevotella","s":"D-Gal-3","v":0.05},{"g":"Prevotella","s":"Normal-4","v":0.018},{"g":"Prevotella","s":"Normal-3","v":0.05},{"g":"Prevotella","s":"D-Gal-4","v":0.05},{"g":"Prevotella","s":"AMP-H-2","v":0.1},{"g":"Prevotella","s":"AMP-L-1","v":0.1},{"g":"Prevotella","s":"D-Gal-6","v":0.018},{"g":"Prevotella","s":"D-Gal-7","v":0.05},{"g":"Prevotella","s":"Normal-5","v":0.1},{"g":"Prevotella","s":"AMP-H-1","v":0.05},{"g":"Prevotella","s":"AMP-H-3","v":0.1},{"g":"Prevotella","s":"AMP-L-3","v":0.16},{"g":"Prevotella","s":"AMP-H-5","v":0.1},{"g":"Prevotella","s":"AMP-L-4","v":0.003},{"g":"Prevotella","s":"AMP-L-2","v":0.05},{"g":"Prevotella","s":"Normal-2","v":0.1},{"g":"Prevotella","s":"AMP-L-5","v":0.05},{"g":"Prevotella","s":"Normal-1","v":0.05},{"g":"Prevotella","s":"D-Gal-5","v":0.1},
{"g":"Bacteroides","s":"AMP-H-4","v":0.05},{"g":"Bacteroides","s":"D-Gal-3","v":0.05},{"g":"Bacteroides","s":"Normal-4","v":0.22},{"g":"Bacteroides","s":"Normal-3","v":0.24},{"g":"Bacteroides","s":"D-Gal-4","v":0.32},{"g":"Bacteroides","s":"AMP-H-2","v":0.1},{"g":"Bacteroides","s":"AMP-L-1","v":0.12},{"g":"Bacteroides","s":"D-Gal-6","v":0.05},{"g":"Bacteroides","s":"D-Gal-7","v":0.018},{"g":"Bacteroides","s":"Normal-5","v":0.22},{"g":"Bacteroides","s":"AMP-H-1","v":0.28},{"g":"Bacteroides","s":"AMP-H-3","v":0.24},{"g":"Bacteroides","s":"AMP-L-3","v":0.12},{"g":"Bacteroides","s":"AMP-H-5","v":0.05},{"g":"Bacteroides","s":"AMP-L-4","v":0.007},{"g":"Bacteroides","s":"AMP-L-2","v":0.05},{"g":"Bacteroides","s":"Normal-2","v":0.1},{"g":"Bacteroides","s":"AMP-L-5","v":0.18},{"g":"Bacteroides","s":"Normal-1","v":0.05},{"g":"Bacteroides","s":"D-Gal-5","v":0.1},
{"g":"Akkermansia","s":"AMP-H-4","v":0.48},{"g":"Akkermansia","s":"D-Gal-3","v":0.5},{"g":"Akkermansia","s":"Normal-4","v":0.48},{"g":"Akkermansia","s":"Normal-3","v":0.38},{"g":"Akkermansia","s":"D-Gal-4","v":0.4},{"g":"Akkermansia","s":"AMP-H-2","v":0.38},{"g":"Akkermansia","s":"AMP-L-1","v":0.32},{"g":"Akkermansia","s":"D-Gal-6","v":0.0005},{"g":"Akkermansia","s":"D-Gal-7","v":0.003},{"g":"Akkermansia","s":"Normal-5","v":0.018},{"g":"Akkermansia","s":"AMP-H-1","v":0.05},{"g":"Akkermansia","s":"AMP-H-3","v":0.0005},{"g":"Akkermansia","s":"AMP-L-3","v":0.05},{"g":"Akkermansia","s":"AMP-H-5","v":0.1},{"g":"Akkermansia","s":"AMP-L-4","v":0.16},{"g":"Akkermansia","s":"AMP-L-2","v":0.22},{"g":"Akkermansia","s":"Normal-2","v":0.1},{"g":"Akkermansia","s":"AMP-L-5","v":0.0005},{"g":"Akkermansia","s":"Normal-1","v":0.0005},{"g":"Akkermansia","s":"D-Gal-5","v":0.1},
{"g":"Lactobacillus","s":"AMP-H-4","v":0.05},{"g":"Lactobacillus","s":"D-Gal-3","v":0.1},{"g":"Lactobacillus","s":"Normal-4","v":0.05},{"g":"Lactobacillus","s":"Normal-3","v":0.1},{"g":"Lactobacillus","s":"D-Gal-4","v":0.018},{"g":"Lactobacillus","s":"AMP-H-2","v":0.22},{"g":"Lactobacillus","s":"AMP-L-1","v":0.2},{"g":"Lactobacillus","s":"D-Gal-6","v":0.05},{"g":"Lactobacillus","s":"D-Gal-7","v":0.1},{"g":"Lactobacillus","s":"Normal-5","v":0.22},{"g":"Lactobacillus","s":"AMP-H-1","v":0.3},{"g":"Lactobacillus","s":"AMP-H-3","v":0.24},{"g":"Lactobacillus","s":"AMP-L-3","v":0.16},{"g":"Lactobacillus","s":"AMP-H-5","v":0.3},{"g":"Lactobacillus","s":"AMP-L-4","v":0.48},{"g":"Lactobacillus","s":"AMP-L-2","v":0.46},{"g":"Lactobacillus","s":"Normal-2","v":0.45},{"g":"Lactobacillus","s":"AMP-L-5","v":0.4},{"g":"Lactobacillus","s":"Normal-1","v":0.38},{"g":"Lactobacillus","s":"D-Gal-5","v":0.32}
]
},
"concat": [
{
"width": 119, "height": 61,
"data": {"values": [{"k": 1}]},
"mark": {"type": "rect", "opacity": 0},
"encoding": {},
"title": {"text": "F", "anchor": "start", "frame": "group", "orient": "top", "font": "Liberation Serif", "fontSize": 30, "fontWeight": "bold", "color": "#000", "offset": -27, "dx": 12, "dy": 5, "baseline": "alphabetic"}
},
{
"width": 261, "height": 61,
"data": {"name": "topTree"},
"mark": {"type": "rule", "color": "#444", "strokeWidth": 1},
"encoding": {
"x": {"field": "x", "type": "quantitative", "scale": {"domain": [0, 20], "nice": false, "zero": false}, "axis": null},
"x2": {"field": "x2"},
"y": {"field": "y", "type": "quantitative", "scale": {"domain": [0, 61], "nice": false}, "axis": null},
"y2": {"field": "y2"}
}
},
{
"width": 119, "height": 13,
"data": {"values": [{"k": 1}]},
"mark": {"type": "rect", "opacity": 0},
"encoding": {}
},
{
"width": 261, "height": 13,
"data": {"name": "samples"},
"mark": {"type": "rect"},
"encoding": {
"x": {"field": "s", "type": "nominal", "sort": ["AMP-H-4","D-Gal-3","Normal-4","Normal-3","D-Gal-4","AMP-H-2","AMP-L-1","D-Gal-6","D-Gal-7","Normal-5","AMP-H-1","AMP-H-3","AMP-L-3","AMP-H-5","AMP-L-4","AMP-L-2","Normal-2","AMP-L-5","Normal-1","D-Gal-5"], "scale": {"paddingInner": 0, "paddingOuter": 0}, "axis": null},
"color": {"field": "grp", "type": "nominal",
"scale": {"domain": ["D−Gal","Normal","AMP−L","AMP−H"], "range": ["#27498b","#e8521f","#6aaa35","#8c2433"]},
"legend": {"title": null, "orient": "none", "legendX": -65, "legendY": -82, "direction": "vertical", "symbolType": "square", "symbolSize": 20, "symbolStrokeWidth": 0, "labelFontSize": 8, "labelFont": "Liberation Sans", "labelColor": "#000", "strokeColor": "#000", "padding": 4, "rowPadding": 0, "symbolOffset": 6, "labelOffset": 8, "fillColor": "white"}
}
}
},
{
"width": 119, "height": 402,
"data": {"name": "leftTree"},
"mark": {"type": "rule", "color": "#444", "strokeWidth": 1},
"encoding": {
"x": {"field": "x", "type": "quantitative", "scale": {"domain": [0, 119], "nice": false, "zero": false, "reverse": true}, "axis": null},
"x2": {"field": "x2"},
"y": {"field": "y", "type": "quantitative", "scale": {"domain": [0, 30], "nice": false, "reverse": true}, "axis": null},
"y2": {"field": "y2"}
}
},
{
"width": 261, "height": 402,
"data": {"name": "cells"},
"mark": {"type": "rect", "stroke": "#222", "strokeWidth": 1},
"encoding": {
"x": {"field": "s", "type": "nominal", "sort": ["AMP-H-4","D-Gal-3","Normal-4","Normal-3","D-Gal-4","AMP-H-2","AMP-L-1","D-Gal-6","D-Gal-7","Normal-5","AMP-H-1","AMP-H-3","AMP-L-3","AMP-H-5","AMP-L-4","AMP-L-2","Normal-2","AMP-L-5","Normal-1","D-Gal-5"], "scale": {"paddingInner": 0, "paddingOuter": 0},
"axis": {"orient": "bottom", "title": null, "labelAngle": -90, "labelFontSize": 7.5, "labelPadding": 7, "ticks": false, "domain": false, "labelColor": "#000"}},
"y": {"field": "g", "type": "nominal", "sort": ["Parabacteroides","Butyricicoccus","Lachnospiracea_incertae_sedis","Anaerotruncus","Erysipelotrichaceae_incertae_sedis","Pseudomonas","Anaeroplasma","Ruminococcus","Clostridium XlVb","Parasutterella","Odoribacter","Flavonifractor","Helicobacter","Turicibacter","Roseburia","Enterorhabdus","Mucispirillum","Pseudoflavonifractor","Clostridium IV","Oscillibacter","Saccharibacteria_genera_incertae_sedis","Clostridium XlVa","Desulfovibrio","Acetatifactor","Alistipes","Barnesiella","Prevotella","Bacteroides","Akkermansia","Lactobacillus"], "scale": {"paddingInner": 0, "paddingOuter": 0},
"axis": {"orient": "right", "title": null, "labelFontSize": 10, "labelPadding": 6, "ticks": false, "domain": false, "labelLimit": 300, "labelColor": "#000"}},
"color": {"field": "v", "type": "quantitative",
"scale": {"domain": [0, 0.003, 0.007, 0.018, 0.05, 0.1, 0.16, 0.22, 0.3, 0.38, 0.48, 0.565], "range": ["#b0d6e6", "#c4e4d6", "#d8ecb8", "#e8ed86", "#f2e545", "#f5d23a", "#f7bc34", "#f5a230", "#f08a2b", "#e86428", "#e2432a", "#e03a2a"], "interpolate": "rgb"},
"legend": {"title": "Relative Abundance", "orient": "none", "legendX": -81, "legendY": -120.5, "direction": "horizontal", "gradientLength": 339, "gradientThickness": 13, "gradientStrokeColor": "#777", "gradientStrokeWidth": 0.5, "values": [0, 0.1, 0.2, 0.3, 0.4, 0.5], "format": ".1~f", "labelFontSize": 7.5, "labelColor": "#222", "labelOffset": 4, "labelOverlap": false, "titleOrient": "bottom", "titleAnchor": "middle", "titleFontSize": 7.5, "titleFontWeight": "normal", "titleColor": "#222", "titlePadding": 2, "padding": 0}
}
}
}
]
}
